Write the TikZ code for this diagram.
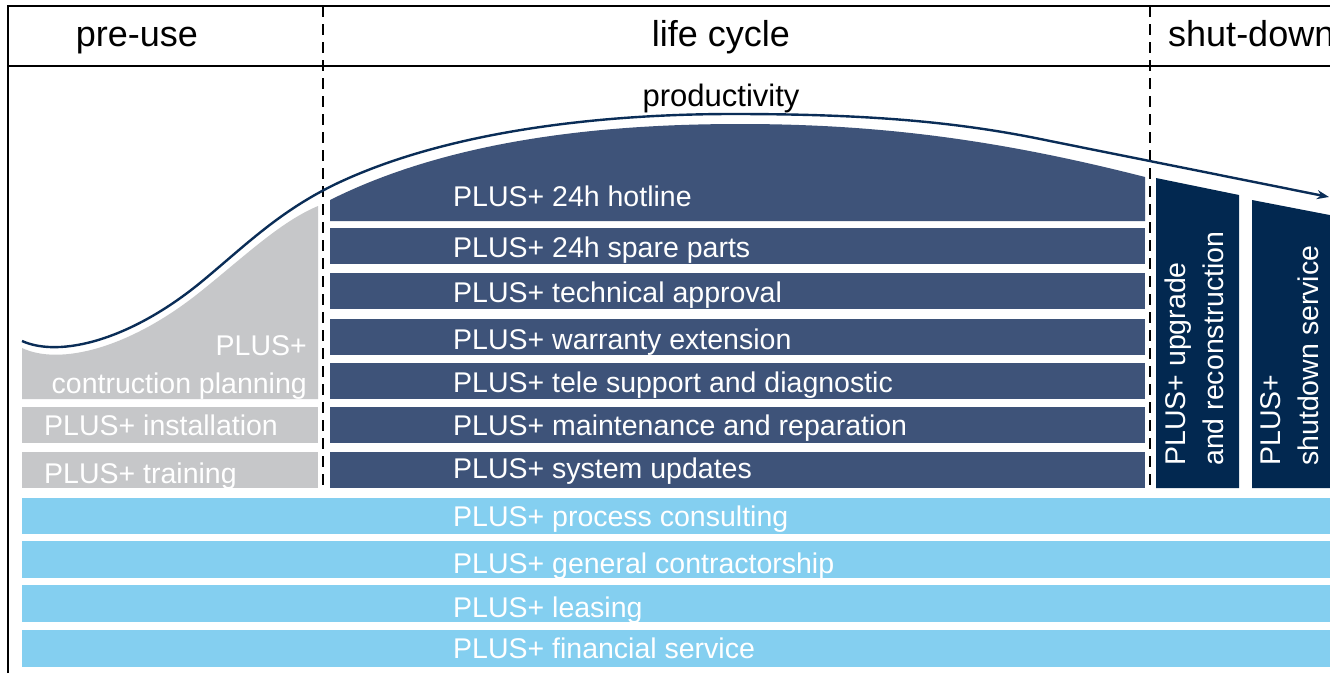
\documentclass[tikz,border=0pt]{standalone}
\usepackage{fontspec}
\setmainfont{Liberation Sans}
\usetikzlibrary{arrows.meta}
\definecolor{slate}{RGB}{62,83,121}
\definecolor{navy}{RGB}{2,40,80}
\definecolor{curvecol}{RGB}{10,45,87}
\definecolor{greyfill}{RGB}{198,199,201}
\definecolor{sky}{RGB}{132,207,240}
\newcommand\lblsize{\fontsize{28.5}{38}\selectfont}
\newcommand\headsize{\fontsize{36}{40}\selectfont}
\newcommand\prodsize{\fontsize{31}{36}\selectfont}
\begin{document}
\begin{tikzpicture}[x=1pt,y=-1pt,
  lbl/.style={anchor=base west, inner sep=0pt, text=white, font=\lblsize},
  vlbl/.style={rotate=90, anchor=north west, inner sep=0pt, align=left, text=white, font=\lblsize},
  head/.style={anchor=base, inner sep=0pt, font=\headsize},
  framestyle/.style={line width=2.4pt, black},
  divider/.style={line width=2.6pt, black, dash pattern=on 11pt off 7pt},
  prodline/.style={curvecol, line width=2.4pt, -{Stealth[length=12pt,width=9pt]}}
]
\useasboundingbox (0,0) rectangle (1330,673);
\clip (0,0) rectangle (1330,673);
\fill[white] (0,0) rectangle (1330,673);

% pre-use (grey)
\fill[greyfill] (22,399) -- (22,348) .. controls (60,366) and (130,348) .. (200,292)
  .. controls (245,256) and (280,222) .. (318,206) -- (318,399) -- cycle;
\fill[greyfill] (22,407) rectangle (318,443);
\fill[greyfill] (22,452) rectangle (318,488);

% life cycle (slate)
\fill[slate] (330,221) -- (330,200) .. controls (450,140) and (600,124) .. (740,124)
  .. controls (880,124) and (1000,140) .. (1145,177) -- (1145,221) -- cycle;
\fill[slate] (330,228) rectangle (1145,264);
\fill[slate] (330,273) rectangle (1145,309);
\fill[slate] (330,319) rectangle (1145,355);
\fill[slate] (330,363) rectangle (1145,399);
\fill[slate] (330,407) rectangle (1145,443);
\fill[slate] (330,452) rectangle (1145,488);

% shut-down (navy)
\fill[navy] (1156,488) -- (1156,178) -- (1239,195) -- (1239,488) -- cycle;
\fill[navy] (1252,488) -- (1252,200) -- (1340,217) -- (1340,488) -- cycle;

% overall (sky)
\fill[sky] (22,498) rectangle (1340,534);
\fill[sky] (22,541) rectangle (1340,578);
\fill[sky] (22,585) rectangle (1340,622);
\fill[sky] (22,630) rectangle (1340,667);

% frame and dividers
\draw[framestyle] (8,673) -- (8,6) -- (1340,6);
\draw[framestyle] (8,66) -- (1340,66);
\draw[divider] (323,6) -- (323,488);
\draw[divider] (1150,6) -- (1150,488);

% productivity curve
\coordinate (cstart) at (22,341);
\coordinate (cend) at (1329,197);
\draw[prodline] (cstart) .. controls (60,358) and (130,340) .. (200,283)
  .. controls (245,246) and (280,210) .. (340,182)
  .. controls (450,131) and (600,114) .. (733,114)
  .. controls (870,114) and (960,122) .. (1050,141) -- (cend);

% headers
\node[head] (preuse) at (137,46) {pre-use};
\node[head] (lifecycle) at (721,46) {life cycle};
\node[head, anchor=base west] (shutdown) at (1168,46) {shut-down};
\node[anchor=base, inner sep=0pt, font=\prodsize] (productivity) at (721,106) {productivity};

% grey labels
\node[inner sep=0pt, anchor=north east, align=right, text=white, font=\lblsize] (planning) at (307,335) {PLUS+\\contruction planning};
\node[lbl] (installation) at (44,435) {PLUS+ installation};
\node[lbl] (training) at (44,483) {PLUS+ training};

% slate labels
\node[lbl] (hotline) at (453,206) {PLUS+ 24h hotline};
\node[lbl] (spare) at (453,257) {PLUS+ 24h spare parts};
\node[lbl] (approval) at (453,302) {PLUS+ technical approval};
\node[lbl] (warranty) at (453,349) {PLUS+ warranty extension};
\node[lbl] (tele) at (453,392) {PLUS+ tele support and diagnostic};
\node[lbl] (maintenance) at (453,435) {PLUS+ maintenance and reparation};
\node[lbl] (updates) at (453,478) {PLUS+ system updates};

% navy labels
\node[vlbl] (upgrade) at (1165,466) {PLUS+ upgrade\\and reconstruction};
\node[vlbl] (shutserv) at (1260,466) {PLUS+\\shutdown service};

% sky labels
\node[lbl] (consulting) at (453,526) {PLUS+ process consulting};
\node[lbl] (contractor) at (453,573) {PLUS+ general contractorship};
\node[lbl] (leasing) at (453,617) {PLUS+ leasing};
\node[lbl] (financial) at (453,658) {PLUS+ financial service};
\end{tikzpicture}
\end{document}
